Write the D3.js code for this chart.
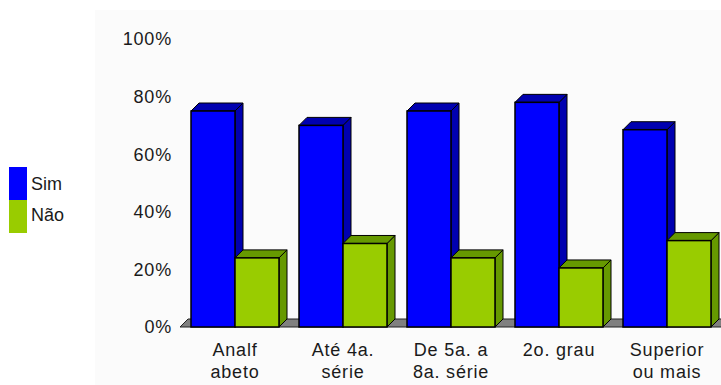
<!DOCTYPE html>
<html><head><meta charset="utf-8">
<script src="https://cdn.jsdelivr.net/npm/d3@7"></script>
<style>
html,body{margin:0;padding:0;background:#fff;}
svg{display:block;font-family:"Liberation Sans",Arial,sans-serif;}
</style></head>
<body>
<script>
const categories = ["Analf abeto","Até 4a. série","De 5a. a 8a. série","2o. grau","Superior ou mais"];
const categoryLines = [["Analf","abeto"],["Até 4a.","série"],["De 5a. a","8a. série"],["2o. grau",""],["Superior","ou mais"]];
const seriesNames = ["Sim","Não"];
const simValues = [75, 70, 75, 78, 68.5];
const naoValues = [24, 29, 24, 20.5, 30];
const yTicks = [0,20,40,60,80,100];

const W=721,H=385,depth=8;
const svg=d3.select("body").append("svg").attr("width",W).attr("height",H);
svg.append("rect").attr("x",95).attr("y",10).attr("width",W-95).attr("height",H-10).attr("fill","#fbfbfb");

const x=d3.scaleBand().domain(categories).range([181,721]).paddingInner(20/108).paddingOuter(10/108);
const xs=d3.scaleBand().domain(seriesNames).range([0,x.bandwidth()]);
const y=d3.scaleLinear().domain([0,100]).range([327,39]);
const front={"Sim":"#0000ff","Não":"#99cc00"};
const dark={"Sim":"#0000b0","Não":"#669900"};

// y tick labels
svg.append("g").selectAll("text").data(yTicks).join("text")
  .attr("x",172).attr("y",d=>y(d)).attr("dy","0.35em").attr("text-anchor","end")
  .attr("font-size",18).attr("letter-spacing",0.8).attr("fill","#1a1a1a").text(d=>d+"%");

// floor
const y0=y(0);
svg.append("path").attr("d",`M180,${y0}L${180+depth},${y0-depth}L${W+depth},${y0-depth}L${W},${y0}Z`)
  .attr("fill","#808080").attr("stroke","#222").attr("stroke-width",1);

const data=[];
categories.forEach((c,i)=>{data.push({c,s:"Sim",v:simValues[i]});data.push({c,s:"Não",v:naoValues[i]});});
const g=svg.append("g");
data.forEach(d=>{
  const x0=x(d.c)+xs(d.s), x1=x0+xs.bandwidth(), yt=y(d.v);
  g.append("path").attr("d",`M${x1},${yt}L${x1+depth},${yt-depth}L${x1+depth},${y0-depth}L${x1},${y0}Z`)
    .attr("fill",dark[d.s]).attr("stroke","#000").attr("stroke-width",1);
  g.append("path").attr("d",`M${x0},${yt}L${x0+depth},${yt-depth}L${x1+depth},${yt-depth}L${x1},${yt}Z`)
    .attr("fill",dark[d.s]).attr("stroke","#000").attr("stroke-width",1);
  g.append("rect").attr("x",x0).attr("y",yt).attr("width",xs.bandwidth()).attr("height",y0-yt)
    .attr("fill",front[d.s]).attr("stroke","#000").attr("stroke-width",1.5);
});

// category labels
const lab=svg.append("g");
categories.forEach((c,i)=>{
  const cx=x(c)+x.bandwidth()/2;
  categoryLines[i].forEach((t,j)=>{
    lab.append("text").attr("x",cx).attr("y",356+j*22).attr("text-anchor","middle")
      .attr("font-size",18).attr("letter-spacing",0.8).attr("fill","#1a1a1a").text(t);
  });
});

// legend
const leg=svg.append("g");
seriesNames.forEach((s,i)=>{
  leg.append("rect").attr("x",9).attr("y",167+i*33).attr("width",18).attr("height",33).attr("fill",front[s]);
  leg.append("text").attr("x",31).attr("y",184+i*31).attr("dy","0.35em").attr("font-size",18)
    .attr("fill","#1a1a1a").text(s);
});
</script>
</body></html>
